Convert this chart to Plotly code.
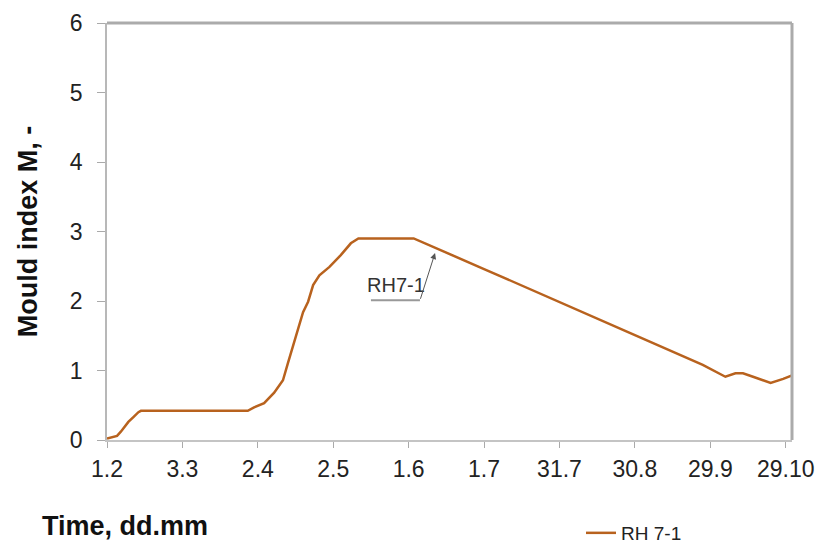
import plotly.graph_objects as go

# Days since 1 Feb and mould index values
days = [0, 4, 5.5, 8.5, 10.5, 12.5, 13.5, 56, 58.5, 62.5, 66.5, 70, 72, 75, 78, 80, 82,
        84.5, 88.5, 93, 97, 100, 122, 150, 180, 210, 237, 246, 250, 253, 257, 261, 264, 269, 272.5]
mould_index = [0.02, 0.06, 0.12, 0.26, 0.33, 0.40, 0.42, 0.42, 0.47, 0.53, 0.68, 0.86, 1.11, 1.48,
               1.84, 1.99, 2.23, 2.37, 2.49, 2.66, 2.83, 2.90, 2.90, 2.46, 1.98, 1.51, 1.08, 0.91,
               0.96, 0.96, 0.91, 0.86, 0.82, 0.88, 0.93]

tick_days = [0, 30, 60, 90, 120, 150, 180, 210, 240, 270]
tick_labels = ["1.2", "3.3", "2.4", "2.5", "1.6", "1.7", "31.7", "30.8", "29.9", "29.10"]

series_name = "RH 7-1"
callout_text = "RH7-1"

LINE_COLOR = "#B8621E"
FONT = "Liberation Sans, Arial, sans-serif"

fig = go.Figure()
fig.add_trace(go.Scatter(
    x=days, y=mould_index, mode="lines", name=series_name,
    line=dict(color=LINE_COLOR, width=2.5),
))

fig.update_layout(
    width=820, height=539,
    margin=dict(l=99, r=36, t=15, b=107, autoexpand=False),
    paper_bgcolor="white", plot_bgcolor="white",
    font=dict(family=FONT, color="#222222"),
    showlegend=True,
    legend=dict(
        xref="paper", yref="paper", x=0.692, y=-0.223,
        xanchor="left", yanchor="middle",
        font=dict(size=19, color="#222222"),
        itemwidth=30, bgcolor="rgba(0,0,0,0)",
    ),
    xaxis=dict(
        range=[0, 272.5], tickmode="array", tickvals=tick_days, ticktext=tick_labels,
        showgrid=False, zeroline=False, showline=True, linecolor="#C4C4C4", linewidth=2,
        ticks="outside", ticklen=6, tickcolor="#AAAAAA", tickwidth=1,
        tickfont=dict(size=23, color="#222222"), ticklabelstandoff=1,
    ),
    yaxis=dict(
        range=[0, 6], dtick=1, tick0=0,
        showgrid=False, zeroline=False, showline=True, linecolor="#B8B8B8", linewidth=1.5,
        ticks="outside", ticklen=8, tickcolor="#AAAAAA", tickwidth=1,
        tickfont=dict(size=23, color="#222222"), ticklabelstandoff=10,
        title=dict(text="<b>Mould index M, -</b>", font=dict(size=27, color="#111111"), standoff=24),
    ),
)

# plot frame: top and right borders
fig.add_shape(type="line", xref="paper", yref="paper", x0=0, x1=1, y0=1, y1=1,
              line=dict(color="#ABABAB", width=3))
fig.add_shape(type="line", xref="paper", yref="paper", x0=1, x1=1, y0=0, y1=1,
              line=dict(color="#ABABAB", width=3))

# x-axis title, left aligned under the axis
fig.add_annotation(xref="paper", yref="paper", x=-0.098, y=-0.207, xanchor="left", yanchor="middle",
                   text="<b>Time, dd.mm</b>", showarrow=False, font=dict(size=27, color="#111111"))

# callout label with underline and arrow
fig.add_annotation(x=115, y=2.23, text=callout_text, showarrow=False,
                   font=dict(size=20, color="#333333"))
fig.add_shape(type="line", x0=105, x1=124.5, y0=2.01, y1=2.01,
              line=dict(color="#999999", width=2))
fig.add_annotation(x=130.5, y=2.69, ax=124.5, ay=2.01, axref="x", ayref="y", text="",
                   showarrow=True, arrowhead=2, arrowsize=1.2, arrowwidth=1, arrowcolor="#555555")

fig.write_html("out.html")
